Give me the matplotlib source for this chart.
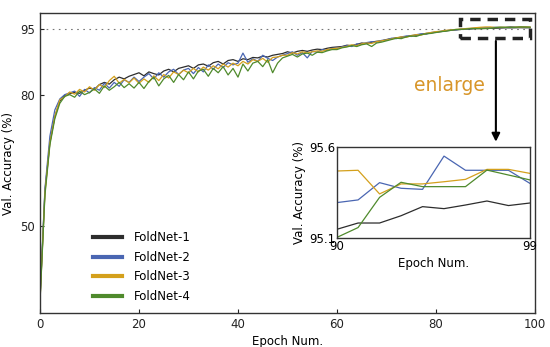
import matplotlib
matplotlib.use("Agg")
import matplotlib.pyplot as plt
import numpy as np

epochs = list(range(100))
labels = ["FoldNet-1", "FoldNet-2", "FoldNet-3", "FoldNet-4"]
colors = ["#2d2d2d", "#4a66b2", "#d4a01c", "#4f8a2c"]

foldnet1 = [33.0, 58.0, 69.0, 75.0, 78.5, 79.8, 80.2, 80.5, 80.3, 81.0,
            81.5, 81.2, 82.3, 82.8, 82.4, 83.4, 84.0, 83.6, 84.2, 84.6,
            85.0, 84.3, 85.2, 84.8, 84.5, 85.4, 85.8, 85.2, 86.0, 86.3,
            86.6, 86.0, 86.8, 87.0, 86.5, 87.3, 87.6, 87.0, 87.8, 88.0,
            87.6, 88.2, 88.0, 88.5, 88.4, 88.8, 88.6, 89.0, 89.2, 89.4,
            89.8, 89.5, 89.9, 90.1, 89.9, 90.2, 90.4, 90.3, 90.6, 90.8,
            90.9, 91.0, 91.3, 91.2, 91.5, 91.8, 91.7, 92.0, 92.2, 92.3,
            92.6, 92.8, 93.0, 93.1, 93.3, 93.5, 93.6, 93.8, 94.0, 94.1,
            94.3, 94.4, 94.6, 94.7, 94.8, 94.9, 95.0, 95.0, 95.1, 95.1,
            95.149, 95.184, 95.184, 95.224, 95.274, 95.263, 95.283, 95.305, 95.280, 95.294]
foldnet2 = [33.5, 58.5, 70.5, 76.5, 79.0, 80.0, 80.4, 80.8, 79.6, 81.2,
            80.4, 81.6, 81.0, 82.6, 81.5, 82.8, 81.9, 83.4, 82.8, 84.0,
            83.0, 84.0, 84.8, 83.6, 85.0, 84.0, 85.2, 85.8, 84.6, 85.6,
            86.0, 84.8, 86.2, 85.2, 86.8, 85.8, 87.0, 86.2, 87.3, 86.8,
            87.2, 89.5, 87.4, 88.2, 87.6, 89.0, 88.3, 87.8, 88.6, 89.0,
            89.4, 89.8, 89.0, 89.6, 88.4, 89.9, 89.7, 90.3, 90.1, 90.6,
            90.6, 90.9, 91.2, 91.0, 91.6, 91.5, 91.9, 92.1, 92.0, 92.4,
            92.5, 92.9, 92.8, 93.2, 93.4, 93.3, 93.7, 93.9, 93.8, 94.2,
            94.3, 94.5, 94.6, 94.8, 94.8, 95.0, 95.0, 95.1, 95.2, 95.3,
            95.296, 95.311, 95.406, 95.375, 95.369, 95.552, 95.474, 95.474, 95.474, 95.402]
foldnet3 = [32.8, 57.5, 69.0, 75.0, 78.8, 79.5, 80.6, 80.1, 81.2, 80.6,
            81.8, 81.0, 82.3, 81.6, 83.2, 84.2, 82.6, 83.5, 82.7, 83.8,
            82.6, 83.6, 82.8, 84.3, 83.2, 84.6, 83.8, 85.2, 84.6, 85.6,
            85.0, 86.0, 85.2, 86.3, 85.6, 86.6, 85.9, 87.0, 86.3, 87.2,
            86.6, 87.6, 87.0, 88.0, 87.6, 88.3, 87.4, 88.5, 88.6, 89.0,
            89.0, 89.6, 89.3, 89.8, 89.5, 89.8, 90.0, 89.9, 90.3, 90.5,
            90.6, 90.8, 91.0, 91.4, 91.2, 91.6, 91.8, 91.7, 92.1, 92.3,
            92.5, 92.7, 93.0, 93.2, 93.1, 93.5, 93.7, 93.6, 94.0, 94.2,
            94.4, 94.5, 94.7, 94.8, 94.9, 95.0, 95.1, 95.2, 95.3, 95.4,
            95.470, 95.474, 95.344, 95.399, 95.399, 95.411, 95.424, 95.479, 95.479, 95.457]
foldnet4 = [32.5, 57.0, 68.5, 74.5, 78.0, 79.6, 80.0, 79.4, 80.8, 80.0,
            80.5, 81.3, 80.3, 82.0, 81.0, 81.8, 82.8, 81.6, 82.5, 81.5,
            82.8, 81.4, 83.0, 84.0, 82.0, 83.6, 84.4, 82.8, 84.6, 83.4,
            85.2, 83.6, 85.4, 85.8, 84.2, 86.0, 85.0, 86.4, 84.5, 86.0,
            84.0, 87.0, 85.4, 87.2, 87.6, 86.4, 88.0, 85.0, 87.2, 88.4,
            88.8, 89.2, 88.6, 89.3, 89.5, 89.0, 89.7, 89.6, 90.0, 90.3,
            90.3, 90.7, 90.9, 91.2, 91.0, 91.4, 91.6, 91.0, 91.8, 92.0,
            92.3, 92.6, 92.9, 92.8, 93.2, 93.4, 93.3, 93.7, 93.9, 94.0,
            94.2, 94.4, 94.5, 94.7, 94.9, 94.9, 95.0, 95.1, 95.1, 95.1,
            95.104, 95.159, 95.325, 95.408, 95.384, 95.384, 95.384, 95.475, 95.448, 95.421]
series = [foldnet1, foldnet2, foldnet3, foldnet4]

main_xticks = [0, 20, 40, 60, 80, 100]
main_yticks = [50, 80, 95]
inset_xticks = [90, 99]
inset_yticks = [95.1, 95.6]

fig = plt.figure(figsize=(5.5, 3.47), dpi=100)
ax = fig.add_axes([0.0727, 0.097, 0.9, 0.866])
for s, c, l in zip(series, colors, labels):
    ax.plot(epochs, s, color=c, lw=0.9, label=l)
ax.axhline(95, color="#777777", lw=0.8, ls=(0, (1.5, 4)), zorder=0)
ax.set_xlim(0, 100)
ax.set_ylim(30, 98.7)
ax.set_xticks(main_xticks)
ax.set_yticks(main_yticks)
ax.tick_params(direction="in", labelsize=8.5, length=3, width=0.8, colors="#222222")
ax.set_xlabel("Epoch Num.", fontsize=8.5, labelpad=3)
ax.set_ylabel("Val. Accuracy (%)", fontsize=8.5, labelpad=4)
for sp in ax.spines.values():
    sp.set_color("#333333")
    sp.set_linewidth(1.0)

leg = ax.legend(loc="lower left", bbox_to_anchor=(0.085, 0.0), frameon=False,
                fontsize=8.5, handlelength=2.5, handletextpad=1.0, labelspacing=0.55)
for h in leg.get_lines():
    h.set_linewidth(3)

# dashed rectangle + arrow + label
rect = plt.Rectangle((84.8, 92.9), 14.2, 4.3, fill=False, ls=(0, (3, 2)),
                     lw=2.5, ec="#222222", zorder=5, clip_on=False)
ax.add_patch(rect)
ax.annotate("", xy=(92.1, 68.6), xytext=(92.1, 92.9),
            arrowprops=dict(arrowstyle="-|>", color="black", lw=1.5, mutation_scale=12))
ax.text(82.8, 82.2, "enlarge", color="#d8962a", fontsize=13.5, ha="center", va="center")

ins = fig.add_axes([0.612, 0.3133, 0.3515, 0.262])
for s, c in zip(series, colors):
    ins.plot(epochs[90:], s[90:], color=c, lw=0.9)
ins.set_xlim(90, 99)
ins.set_ylim(95.1, 95.6)
ins.set_xticks(inset_xticks)
ins.set_xticklabels(["90", "99"])
ins.set_yticks(inset_yticks)
ins.set_yticklabels(["95.1", "95.6"])
ins.tick_params(length=0, labelsize=8.5, pad=1)
ins.set_xlabel("Epoch Num.", fontsize=8.5, labelpad=3)
ins.set_ylabel("Val. Accuracy (%)", fontsize=8.5, labelpad=2)
for sp in ins.spines.values():
    sp.set_color("#333333")
    sp.set_linewidth(1.0)

fig.savefig("out.png", dpi=100)
